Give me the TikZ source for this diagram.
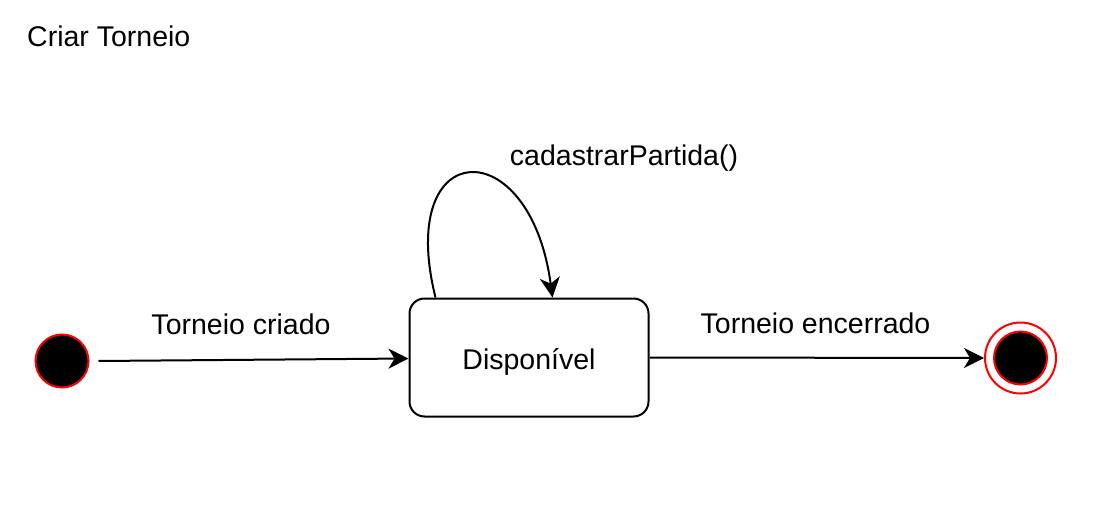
\documentclass[tikz,border=0pt]{standalone}
\usepackage{fontspec}
\setmainfont{Liberation Sans}
\usetikzlibrary{arrows.meta,calc}
\tikzset{
  lbl/.style={font=\fontsize{28.5}{34}\selectfont, anchor=base, inner sep=0pt},
  initst/.style={circle, fill=black, draw=red, line width=2pt, minimum size=53pt, inner sep=0pt},
  finalouter/.style={circle, draw=red, fill=white, line width=2pt, minimum size=71pt, inner sep=0pt},
  finalinner/.style={circle, fill=black, draw=red, line width=2pt, minimum size=53pt, inner sep=0pt},
  statebox/.style={draw=black, line width=2pt, rounded corners=15pt, minimum width=239pt, minimum height=118pt, font=\fontsize{28.5}{34}\selectfont, text height=23.6pt, text depth=0pt, fill=white},
  arr/.style={draw=black, line width=2pt, -{Stealth[length=20pt, width=20pt, inset=6pt]}}
}
\begin{document}
\begin{tikzpicture}[x=1pt,y=-1pt]
\useasboundingbox[fill=white] (0,0) rectangle (1113,508);
\node[lbl, anchor=base west] (title) at (27,47) {Criar Torneio};
\node[initst] (init) at (62,361) {};
\node[statebox] (disp) at (529,357.5) {Disponível};
\node[finalouter] (fin) at (1020.5,358) {};
\node[finalinner] (fininner) at (fin.center) {};
\draw[arr] ([xshift=9pt]init.east) -- ([yshift=-1pt]disp.west);
\draw[arr] (disp.east) -- (fin.west);
\draw[arr] ($(disp.north west)+(27,0)$) .. controls (395,135) and (530,130) .. ($(disp.north west)+(144,0)$);
\node[lbl] (l1) at (241,334) {Torneio criado};
\node[lbl] (l2) at (815.5,333.5) {Torneio encerrado};
\node[lbl] (l3) at (624,165) {cadastrarPartida()};
\end{tikzpicture}
\end{document}
